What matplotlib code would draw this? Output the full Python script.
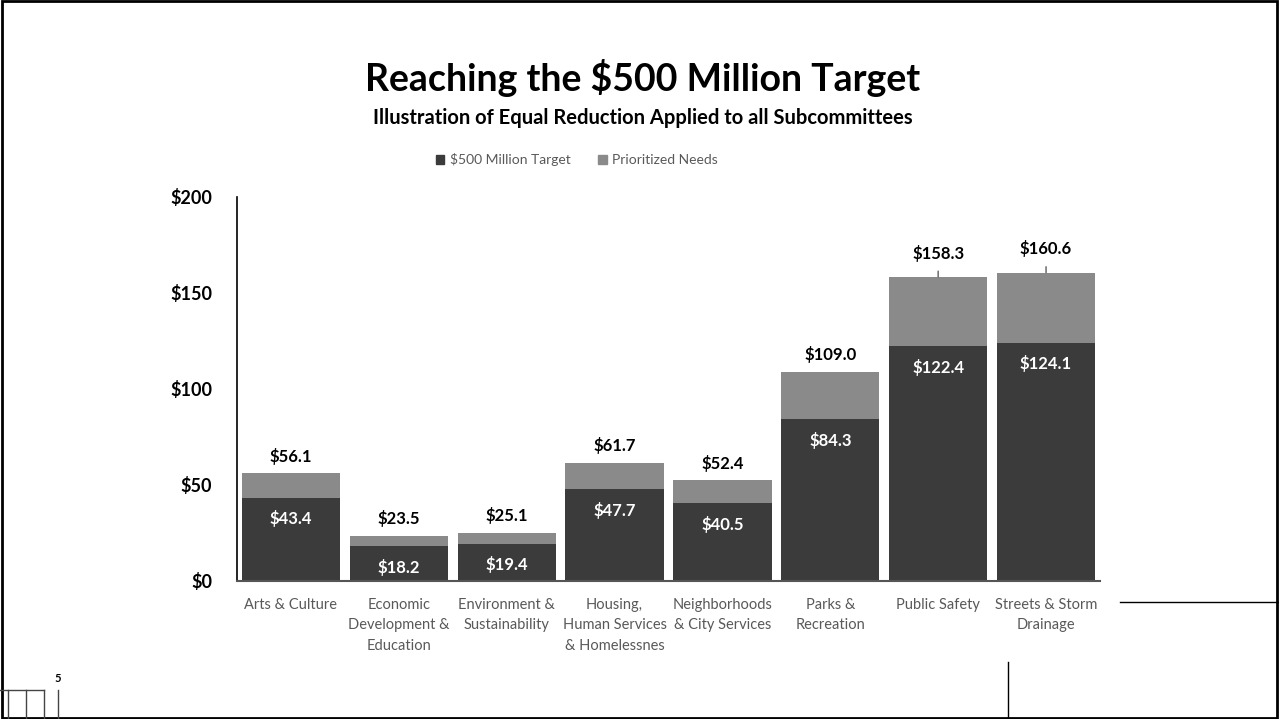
import matplotlib.pyplot as plt
from matplotlib.lines import Line2D
from matplotlib.patches import Rectangle

plt.rcParams['font.family'] = ['Lato', 'DejaVu Sans']

categories = ['Arts & Culture', 'Economic\nDevelopment &\nEducation', 'Environment &\nSustainability',
              'Housing,\nHuman Services\n& Homelessnes', 'Neighborhoods\n& City Services',
              'Parks &\nRecreation', 'Public Safety', 'Streets & Storm\nDrainage']
target = [43.4, 18.2, 19.4, 47.7, 40.5, 84.3, 122.4, 124.1]
needs = [56.1, 23.5, 25.1, 61.7, 52.4, 109.0, 158.3, 160.6]
yticks = [0, 50, 100, 150, 200]

dark = '#3b3b3b'
light = '#8a8a8a'

fig = plt.figure(figsize=(12.79, 7.19), dpi=100)
ax = fig.add_axes([237/1279, 138/719, 863/1279, 384/719])

x = list(range(len(categories)))
rest = [n - t for n, t in zip(needs, target)]
ax.bar(x, target, width=0.91, color=dark, label='$500 Million Target')
ax.bar(x, rest, bottom=target, width=0.91, color=light, label='Prioritized Needs')

ax.set_xlim(-0.5, len(categories) - 0.5)
ax.set_ylim(0, 200)
ax.set_yticks(yticks)
ax.set_yticklabels(['$' + str(v) for v in yticks], fontsize=13, fontweight='bold')
ax.set_xticks(x)
ax.set_xticklabels(categories, fontsize=10.5, color='#595959', linespacing=1.6)
ax.tick_params(axis='x', length=0, pad=12)
ax.tick_params(axis='y', length=0, pad=18)
for s in ['top', 'right']:
    ax.spines[s].set_visible(False)
ax.spines['left'].set_color('black')
ax.spines['left'].set_linewidth(1.2)
ax.spines['bottom'].set_color('#555555')
ax.spines['bottom'].set_linewidth(1.5)

for i in x:
    ax.text(i, target[i] - 11, f'${target[i]:.1f}', ha='center', va='center',
            color='white', fontsize=12, fontweight='bold')
    if needs[i] > 150:
        ax.annotate(f'${needs[i]:.1f}', xy=(i, needs[i]), xytext=(i, needs[i] + 12.5),
                    ha='center', va='center', fontsize=12, fontweight='bold',
                    arrowprops=dict(arrowstyle='-', color='#777777', lw=1.2, shrinkA=5, shrinkB=0))
    else:
        ax.text(i, needs[i] + 9, f'${needs[i]:.1f}', ha='center', va='center',
                fontsize=12, fontweight='bold')

handles = [Rectangle((0, 0), 1, 1, color=dark), Rectangle((0, 0), 1, 1, color=light)]
fig.legend(handles, ['$500 Million Target', 'Prioritized Needs'], loc='center',
           bbox_to_anchor=(577/1279, 1 - 160/719), ncol=2, frameon=False,
           fontsize=10, labelcolor='#595959', handlelength=0.6, handleheight=0.6,
           columnspacing=2.0, handletextpad=0.4)

fig.text(643/1279, 1 - 78/719, 'Reaching the $500 Million Target', ha='center', va='center',
         fontsize=27, fontweight='bold')
fig.text(643/1279, 1 - 118/719, 'Illustration of Equal Reduction Applied to all Subcommittees',
         ha='center', va='center', fontsize=14.5, fontweight='bold')

# slide decorations
fig.text(58/1279, 1 - 679/719, '5', ha='center', va='center', fontsize=8, fontweight='bold')
fig.add_artist(Line2D([1120/1279, 1], [1 - 602/719, 1 - 602/719], color='black', lw=1))
fig.add_artist(Line2D([1008/1279, 1008/1279], [0, 1 - 662/719], color='black', lw=1))
for xl in [8, 26, 44, 58]:
    fig.add_artist(Line2D([xl/1279, xl/1279], [0, 1 - 690/719], color='#444444', lw=1))
fig.add_artist(Line2D([0, 44/1279], [1 - 690/719, 1 - 690/719], color='#444444', lw=1))
fig.add_artist(Rectangle((0.0015, 0.002), 0.997, 0.996, fill=False, ec='black', lw=2,
                         transform=fig.transFigure))

fig.savefig('out.png', dpi=100)
